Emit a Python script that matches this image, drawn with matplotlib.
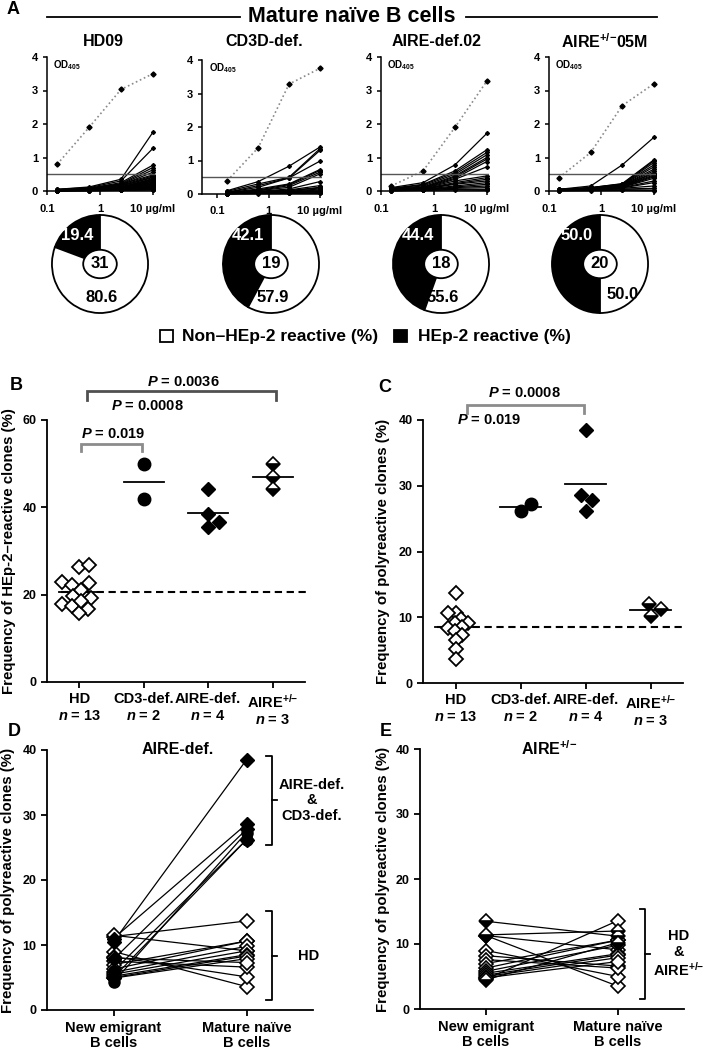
import numpy as np
import matplotlib
matplotlib.use('Agg')
import matplotlib.pyplot as plt
from matplotlib.patches import Ellipse, Rectangle
from matplotlib.lines import Line2D

plt.rcParams['font.family'] = ['Liberation Sans', 'DejaVu Sans']
plt.rcParams['font.weight'] = 'bold'
plt.rcParams['axes.labelweight'] = 'bold'
plt.rcParams['mathtext.fontset'] = 'custom'
plt.rcParams['mathtext.rm'] = 'Liberation Sans:bold'
plt.rcParams['mathtext.bf'] = 'Liberation Sans:bold'
plt.rcParams['mathtext.it'] = 'Liberation Sans:italic:bold'

# ---------------- data ----------------
# panel A : ELISA OD405 vs antibody concentration (ug/ml)
conc = [0.156, 0.625, 2.5, 10]
a_titles = ['HD09', 'CD3D-def.', 'AIRE-def.02', 'AIRE$^{{+}/{-}}$05M']
ctrl_od = [[0.80, 1.90, 3.03, 3.50],
           [0.40, 1.38, 3.28, 3.75],
           [0.15, 0.60, 1.90, 3.28],
           [0.40, 1.15, 2.55, 3.20]]
hd09_od = [[0.05, 0.12, 0.35, 1.75], [0.05, 0.10, 0.30, 1.27], [0.04, 0.08, 0.25, 0.77],
           [0.04, 0.08, 0.22, 0.70], [0.03, 0.07, 0.20, 0.63], [0.03, 0.07, 0.18, 0.56],
           [0.03, 0.06, 0.20, 0.48], [0.03, 0.06, 0.17, 0.45], [0.03, 0.06, 0.15, 0.42],
           [0.02, 0.05, 0.15, 0.40], [0.02, 0.05, 0.12, 0.37], [0.02, 0.05, 0.12, 0.35],
           [0.02, 0.05, 0.11, 0.33], [0.02, 0.04, 0.10, 0.31], [0.02, 0.04, 0.10, 0.29],
           [0.02, 0.04, 0.09, 0.27], [0.02, 0.04, 0.09, 0.25], [0.02, 0.04, 0.08, 0.23],
           [0.02, 0.03, 0.08, 0.21], [0.02, 0.03, 0.07, 0.19], [0.01, 0.03, 0.07, 0.17],
           [0.01, 0.03, 0.06, 0.15], [0.01, 0.03, 0.06, 0.13], [0.01, 0.02, 0.05, 0.12],
           [0.01, 0.02, 0.05, 0.10], [0.01, 0.02, 0.04, 0.09], [0.01, 0.02, 0.04, 0.08],
           [0.01, 0.02, 0.03, 0.06], [0.01, 0.01, 0.03, 0.05], [0.01, 0.01, 0.02, 0.04],
           [0.01, 0.01, 0.02, 0.03]]
cd3d_od = [[0.10, 0.37, 0.83, 1.40], [0.08, 0.30, 0.50, 1.35], [0.05, 0.25, 0.48, 1.30],
           [0.05, 0.20, 0.48, 0.98], [0.04, 0.15, 0.30, 0.73], [0.04, 0.12, 0.28, 0.70],
           [0.03, 0.10, 0.25, 0.65], [0.03, 0.10, 0.20, 0.60], [0.02, 0.08, 0.15, 0.37],
           [0.02, 0.07, 0.12, 0.25], [0.02, 0.06, 0.10, 0.20], [0.02, 0.05, 0.10, 0.18],
           [0.01, 0.05, 0.08, 0.15], [0.01, 0.04, 0.07, 0.12], [0.01, 0.03, 0.06, 0.10],
           [0.01, 0.03, 0.05, 0.08], [0.01, 0.02, 0.04, 0.06], [0.01, 0.02, 0.03, 0.04],
           [0.01, 0.01, 0.02, 0.02]]
airedef02_od = [[0.10, 0.25, 0.78, 1.72], [0.08, 0.20, 0.60, 1.23], [0.07, 0.18, 0.55, 1.15],
                [0.06, 0.15, 0.50, 1.08], [0.05, 0.12, 0.45, 1.00], [0.05, 0.10, 0.42, 0.95],
                [0.04, 0.10, 0.38, 0.88], [0.04, 0.08, 0.35, 0.72], [0.03, 0.08, 0.30, 0.45],
                [0.03, 0.07, 0.25, 0.40], [0.03, 0.06, 0.22, 0.35], [0.02, 0.05, 0.20, 0.30],
                [0.02, 0.05, 0.15, 0.25], [0.02, 0.04, 0.12, 0.20], [0.02, 0.03, 0.10, 0.15],
                [0.01, 0.03, 0.08, 0.10], [0.01, 0.02, 0.05, 0.05], [0.01, 0.02, 0.03, 0.02]]
airehet05m_od = [[0.05, 0.15, 0.78, 1.60], [0.05, 0.10, 0.22, 0.93], [0.05, 0.10, 0.21, 0.90],
                 [0.04, 0.09, 0.20, 0.85], [0.04, 0.09, 0.19, 0.78], [0.04, 0.08, 0.18, 0.72],
                 [0.04, 0.08, 0.17, 0.65], [0.03, 0.07, 0.16, 0.60], [0.03, 0.07, 0.15, 0.55],
                 [0.03, 0.06, 0.15, 0.52], [0.03, 0.06, 0.14, 0.48], [0.03, 0.06, 0.13, 0.45],
                 [0.02, 0.05, 0.12, 0.42], [0.02, 0.05, 0.11, 0.38], [0.02, 0.04, 0.10, 0.30],
                 [0.02, 0.04, 0.09, 0.25], [0.02, 0.03, 0.08, 0.15], [0.01, 0.03, 0.06, 0.08],
                 [0.01, 0.02, 0.04, 0.03], [0.01, 0.01, 0.02, 0.01]]
a_clones = [hd09_od, cd3d_od, airedef02_od, airehet05m_od]
od_cutoff = 0.5
hep2_pos = [19.4, 42.1, 44.4, 50.0]
hep2_neg = [80.6, 57.9, 55.6, 50.0]
clones_tested = [31, 19, 18, 20]

# panels B / C
groups = ['HD', 'CD3-def.', 'AIRE-def.', 'AIRE$^{{+}/{-}}$']
group_n = [13, 2, 4, 3]
hep2_hd = [26.3, 26.7, 22.8, 22.1, 22.6, 19.8, 21.1, 19.2, 17.9, 17.4, 16.7, 15.7, 18.5]
hep2_cd3 = [50.0, 41.8]
hep2_airedef = [44.1, 38.4, 36.6, 35.5]
hep2_airehet = [50.0, 44.1, 47.0]
poly_hd = [13.7, 10.6, 10.6, 9.8, 9.1, 9.1, 8.5, 8.3, 7.9, 7.3, 6.6, 5.1, 3.6]
poly_cd3 = [26.2, 27.3]
poly_airedef = [38.5, 28.6, 27.8, 26.2]
poly_airehet = [12.0, 11.3, 10.2]

# panels D / E : new emigrant -> mature naive
d_hd_new = [11.3, 11.5, 9.0, 8.2, 7.5, 7.0, 6.3, 5.8, 5.5, 5.2, 5.0, 4.9, 8.0]
d_hd_mat = [13.7, 9.1, 3.6, 5.1, 6.6, 10.6, 10.6, 9.8, 9.1, 8.5, 8.3, 7.9, 7.3]
d_aire_new = [10.5, 11.0, 7.8, 5.0]
d_aire_mat = [38.5, 28.6, 27.8, 26.2]
d_cd3_new = [6.0, 4.3]
d_cd3_mat = [26.2, 27.3]
e_hd_new = [4.6, 11.3, 11.3, 9.0, 8.2, 7.6, 7.0, 6.3, 5.8, 5.5, 5.2, 5.0, 4.8]
e_hd_mat = [13.6, 3.5, 9.1, 5.0, 6.6, 6.3, 10.6, 10.6, 9.8, 8.5, 8.3, 7.9, 7.3]
e_het_new = [13.5, 11.4, 4.5]
e_het_mat = [11.2, 12.0, 10.2]

# ---------------- layout helpers ----------------
W, H = 708, 1050
fig = plt.figure(figsize=(W / 100, H / 100), dpi=100)


def rect(l, t, r, b):
    return [l / W, 1 - b / H, (r - l) / W, (b - t) / H]


def ftext(x, y, s, **kw):
    fig.text(x / W, 1 - y / H, s, **kw)


def fline(x0, x1, y, **kw):
    fig.add_artist(Line2D([x0 / W, x1 / W], [1 - y / H] * 2, transform=fig.transFigure, **kw))


def style(ax, lw=1.3):
    for s in ['top', 'right']:
        ax.spines[s].set_visible(False)
    for s in ['left', 'bottom']:
        ax.spines[s].set_linewidth(lw)
    ax.tick_params(direction='out', length=4, width=lw)


def swarm(vals, ppu_y, ppu_x, d=10.0):
    vals = np.asarray(vals, float)
    cand = [0.0]
    for k in range(1, 120):
        cand += [k * 0.5, -k * 0.5]
    placed = []
    offs = np.zeros(len(vals))
    for i in np.argsort(vals):
        y = vals[i] * ppu_y
        for c in cand:
            if all((c - px) ** 2 + (y - py) ** 2 >= d * d for px, py in placed):
                break
        placed.append((c, y))
        offs[i] = c / ppu_x
    return offs


# ---------------- panel A ----------------
ftext(7, 9, 'A', fontsize=13, ha='left', va='center')
ftext(352, 17, 'Mature naïve B cells', fontsize=15.5, ha='center', va='center')
fline(47, 240, 17, color='k', lw=1.3)
fline(466, 657, 17, color='k', lw=1.3)

a_rects = [(47, 57, 155, 191), (202, 60, 322, 194), (381, 57, 489, 191), (549, 57, 656, 191)]
a_xmin = [0.1, 0.05, 0.1, 0.1]
for k in range(4):
    ax = fig.add_axes(rect(*a_rects[k]))
    for row in a_clones[k]:
        ax.plot(conc, row, color='k', lw=0.9, marker='D', ms=2.0, clip_on=False)
    ax.plot(conc, ctrl_od[k], color='#8a8a8a', ls=':', lw=1.2, marker='D', ms=2.6,
            mfc='k', mec='k', clip_on=False)
    ax.axhline(od_cutoff, color='#555555', lw=1.0)
    ax.set_xscale('log')
    ax.set_xlim(a_xmin[k], 11)
    ax.set_ylim(0, 4)
    ax.set_yticks([0, 1, 2, 3, 4])
    ax.set_xticks([0.1, 1, 10])
    ax.set_xticklabels(['0.1', '1', '10 µg/ml'])
    ax.minorticks_off()
    style(ax, 1.1)
    ax.tick_params(axis='both', labelsize=8, length=3)
    ax.tick_params(axis='x', pad=6)
    ax.text(0.06, 0.99, 'OD$_{405}$', transform=ax.transAxes, fontsize=7, va='top', ha='left')
    l, t, r, b = a_rects[k]
    ftext((l + r) / 2 + 2, 42, a_titles[k], fontsize=11.5, ha='center', va='center')

# donut pies: black = HEp-2 reactive, white = non reactive
pie_cx = [100, 271, 441, 600]
for k in range(4):
    cx, cy = pie_cx[k], 264
    ax = fig.add_axes(rect(cx - 49, cy - 50, cx + 49, cy + 50))
    ax.pie([hep2_pos[k], hep2_neg[k]], colors=['black', 'white'], startangle=90,
           counterclock=True, wedgeprops=dict(edgecolor='black', linewidth=1.3))
    ax.set_aspect('auto')
    ax.set_xlim(-1.02, 1.02)
    ax.set_ylim(-1.02, 1.02)
    ax.add_patch(Ellipse((0, 0), 0.7, 0.58, fc='white', ec='black', lw=1.3, zorder=5))
    ax.text(0, 0, str(clones_tested[k]), ha='center', va='center', fontsize=12, zorder=6)
    ax.text(-0.48, 0.58, f'{hep2_pos[k]:.1f}', ha='center', va='center', fontsize=12,
            color='white', zorder=6)
    wx, wy = (0.48, -0.62) if hep2_neg[k] <= 50 else (0.03, -0.68)
    ax.text(wx, wy, f'{hep2_neg[k]:.1f}', ha='center', va='center', fontsize=12,
            color='black', zorder=6)

# legend
fig.add_artist(Rectangle((160 / W, 1 - 342 / H), 13 / W, 12 / H, transform=fig.transFigure,
                         fc='white', ec='black', lw=1.3))
ftext(182, 336, 'Non–HEp-2 reactive (%)', fontsize=12.5, ha='left', va='center')
fig.add_artist(Rectangle((394 / W, 1 - 342 / H), 13 / W, 12 / H, transform=fig.transFigure,
                         fc='black', ec='black', lw=1.3))
ftext(418, 336, 'HEp-2 reactive (%)', fontsize=12.5, ha='left', va='center')


# ---------------- panels B / C ----------------
def dot_panel(ax, data, ymax, ystep, ylabel, ppu_y, ppu_x, d_hd):
    hd, cd3, ad, het = data
    means = [np.mean(v) for v in data]
    ax.plot([-0.28, 3.55], [means[0]] * 2, color='k', lw=1.5, ls=(0, (3.5, 2.2)), clip_on=False)
    for i, m in enumerate(means):
        ax.plot([i - 0.31, i + 0.31], [m, m], color='k', lw=1.3)
    o = swarm(hd, ppu_y, ppu_x, d_hd)
    ax.plot(0 + o, hd, ls='none', marker='D', ms=7, mfc='white', mec='k', mew=1.3)
    o = swarm(cd3, ppu_y, ppu_x, 12)
    ax.plot(1 + o, cd3, ls='none', marker='o', ms=9, mfc='k', mec='k')
    o = swarm(ad, ppu_y, ppu_x, 12)
    ax.plot(2 + o, ad, ls='none', marker='D', ms=7, mfc='k', mec='k')
    o = swarm(het, ppu_y, ppu_x, 12)
    ax.plot(3 + o, het, ls='none', marker='D', ms=7, fillstyle='bottom', mfc='k',
            markerfacecoloralt='white', mec='k', mew=1.2)
    ax.set_xlim(-0.5, 3.5)
    ax.set_ylim(0, ymax)
    ax.set_yticks(np.arange(0, ymax + 1, ystep))
    ax.set_xticks([0, 1, 2, 3])
    ax.set_xticklabels([f'{g}\n$n$ = {n}' for g, n in zip(groups, group_n)], fontsize=10.5)
    ax.set_ylabel(ylabel, fontsize=10.8)
    style(ax)
    ax.tick_params(axis='y', labelsize=9)


def bracket(ax, x0, x1, ytop, ybot, color, lw=2.0):
    ax.plot([x0, x0, x1, x1], [ybot, ytop, ytop, ybot], color=color, lw=lw, clip_on=False,
            solid_joinstyle='miter')


axB = fig.add_axes(rect(47, 420, 305, 682))
dot_panel(axB, [hep2_hd, hep2_cd3, hep2_airedef, hep2_airehet], 60, 20,
          'Frequency of HEp-2–reactive clones (%)', 262 / 60, 258 / 4, 10)
axB.yaxis.set_label_coords(-0.122, 0.5)
bracket(axB, 0.03, 0.98, 54.6, 52.9, '#8c8c8c')
bracket(axB, 0.12, 3.05, 66.7, 64.6, '#505050')
axB.text(0.52, 56.9, '$P$ = 0.019', fontsize=10.5, ha='center', va='center')
axB.text(1.06, 63.1, '$P$ = 0.0008', fontsize=10.5, ha='center', va='center')
axB.text(1.62, 68.8, '$P$ = 0.0036', fontsize=10.5, ha='center', va='center')
ftext(10, 385, 'B', fontsize=13, ha='left', va='center')

axC = fig.add_axes(rect(423, 420, 683, 683))
dot_panel(axC, [poly_hd, poly_cd3, poly_airedef, poly_airehet], 40, 10,
          'Frequency of polyreactive clones (%)', 263 / 40, 260 / 4, 7.5)
axC.yaxis.set_label_coords(-0.127, 0.5)
bracket(axC, 0.17, 1.98, 42.3, 41.0, '#8c8c8c')
axC.text(1.06, 44.1, '$P$ = 0.0008', fontsize=10.5, ha='center', va='center')
axC.text(0.52, 40.0, '$P$ = 0.019', fontsize=10.5, ha='center', va='center')
ftext(378, 387, 'C', fontsize=13, ha='left', va='center')


# ---------------- panels D / E ----------------
def pair_panel(ax, sets, title):
    for new, mat, kw in sets:
        for a, b in zip(new, mat):
            ax.plot([0, 1], [a, b], color='k', lw=0.9, zorder=2)
    for new, mat, kw in sets:
        ax.plot([0] * len(new), new, ls='none', zorder=3, clip_on=False, **kw)
        ax.plot([1] * len(mat), mat, ls='none', zorder=3, clip_on=False, **kw)
    ax.set_xlim(-0.5, 1.5)
    ax.set_ylim(0, 40)
    ax.set_yticks([0, 10, 20, 30, 40])
    ax.set_xticks([0, 1])
    ax.set_xticklabels(['New emigrant\nB cells', 'Mature naïve\nB cells'], fontsize=10.5,
                       linespacing=1.05)
    ax.set_ylabel('Frequency of polyreactive clones (%)', fontsize=10.8)
    ax.text(0.48, 40, title, fontsize=11.5, ha='center', va='center')
    style(ax)
    ax.tick_params(axis='y', labelsize=9)
    ax.tick_params(axis='x', pad=4)


def side_bracket(ax, x, ytop, ybot, label, tx):
    ax.plot([x - 0.04, x, x, x - 0.04], [ytop, ytop, ybot, ybot], color='k', lw=1.3, clip_on=False)
    ymid = (ytop + ybot) / 2
    ax.plot([x, x + 0.04], [ymid, ymid], color='k', lw=1.3, clip_on=False)
    ax.text(tx, ymid, label, fontsize=10.5, ha='center', va='center', linespacing=1.15)


open_d = dict(marker='D', ms=7.5, mfc='white', mec='k', mew=1.2)
fill_d = dict(marker='D', ms=7.5, mfc='k', mec='k')
fill_o = dict(marker='o', ms=8, mfc='k', mec='k')
half_d = dict(marker='D', ms=7.5, fillstyle='bottom', mfc='k', markerfacecoloralt='white',
              mec='k', mew=1.2)

axD = fig.add_axes(rect(47, 750, 313, 1010))
pair_panel(axD, [(d_hd_new, d_hd_mat, open_d), (d_cd3_new, d_cd3_mat, fill_o),
                 (d_aire_new, d_aire_mat, fill_d)], 'AIRE-def.')
axD.yaxis.set_label_coords(-0.12, 0.5)
side_bracket(axD, 1.19, 39.1, 25.4, 'AIRE-def.\n&\nCD3-def.', 1.49)
side_bracket(axD, 1.19, 15.2, 1.5, 'HD', 1.47)
ftext(8, 732, 'D', fontsize=13, ha='left', va='center')

axE = fig.add_axes(rect(420, 749, 684, 1009))
pair_panel(axE, [(e_hd_new, e_hd_mat, open_d), (e_het_new, e_het_mat, half_d)],
           'AIRE$^{{+}/{-}}$')
axE.yaxis.set_label_coords(-0.114, 0.5)
side_bracket(axE, 1.206, 15.4, 1.5, 'HD\n&\nAIRE$^{{+}/{-}}$', 1.46)
ftext(380, 732, 'E', fontsize=13, ha='left', va='center')

fig.savefig('out.png', dpi=100)
